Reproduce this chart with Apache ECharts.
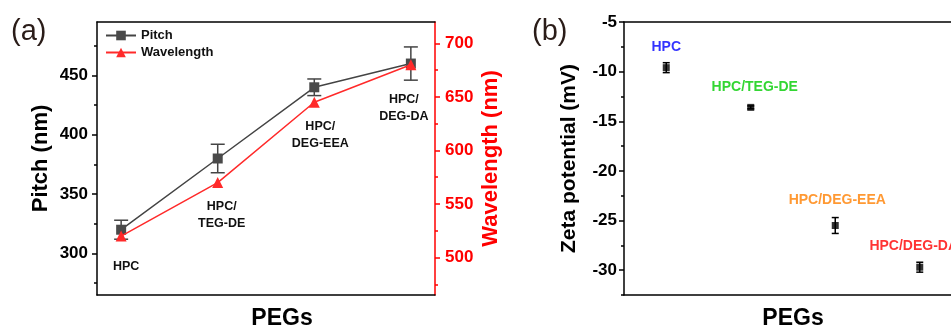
<!DOCTYPE html>
<html>
<head>
<meta charset="utf-8">
<script src="https://cdn.jsdelivr.net/npm/echarts@6/dist/echarts.min.js"></script>
<style>
html,body{margin:0;padding:0;background:#fff;}
#chart{width:951px;height:328px;}
</style>
</head>
<body>
<div id="chart"></div>
<script>
// ---- data ----
var categories = ['HPC', 'HPC/TEG-DE', 'HPC/DEG-EEA', 'HPC/DEG-DA'];
var pitchLabels = ['HPC', 'HPC/\nTEG-DE', 'HPC/\nDEG-EEA', 'HPC/\nDEG-DA'];
var pitch = [320, 380, 440, 460];
var pitchErr = [8, 12, 7, 14];
var wavelength = [520, 570, 645, 680];
var zeta = [-9.6, -13.6, -25.5, -29.7];
var zetaErr = [0.5, 0.15, 0.8, 0.5];
var pitchTicks = [300, 350, 400, 450];
var pitchMinor = [275, 325, 375, 425, 475];
var waveTicks = [500, 550, 600, 650, 700];
var waveMinor = [475, 525, 575, 625, 675];
var zetaTicks = [-5, -10, -15, -20, -25, -30];
var zetaMinor = [-7.5, -12.5, -17.5, -22.5, -27.5, -32.5];
var zetaColors = ['#0000ff', '#00cc00', '#ff8000', '#ff0000'];

// ---- layout/styles ----
var FONT = 'Liberation Sans, Arial, sans-serif';
var pitchOffsets = [[5, 30], [4, 32], [6, 33], [-7, 43]];
var zetaOffsets = [[0, -21], [4, -20], [2, -25], [-6, -21]];

function errData(vals, errs) {
  return vals.map(function (v, i) { return [i + 1, v, v - errs[i], v + errs[i]]; });
}
function errRender(capW, color, lw) {
  return function (params, api) {
    var x = api.value(0);
    var lo = api.coord([x, api.value(2)]);
    var hi = api.coord([x, api.value(3)]);
    var st = { stroke: color, lineWidth: lw };
    return {
      type: 'group',
      children: [
        { type: 'line', shape: { x1: lo[0], y1: lo[1], x2: hi[0], y2: hi[1] }, style: st },
        { type: 'line', shape: { x1: lo[0] - capW / 2, y1: lo[1], x2: lo[0] + capW / 2, y2: lo[1] }, style: st },
        { type: 'line', shape: { x1: hi[0] - capW / 2, y1: hi[1], x2: hi[0] + capW / 2, y2: hi[1] }, style: st }
      ]
    };
  };
}

var blackLine = { show: true, lineStyle: { color: '#000', width: 1.5 } };
var tickLabelStyle = { fontFamily: FONT, fontWeight: 'bold', fontSize: 17, color: '#000' };

var option = {
  backgroundColor: '#fff',
  animation: false,
  textStyle: { fontFamily: FONT },
  grid: [
    { left: 97, top: 22, width: 338, height: 273, containLabel: false, outerBoundsMode: 'none' },
    { left: 624, top: 22, width: 338, height: 273, containLabel: false, outerBoundsMode: 'none' }
  ],
  legend: {
    data: ['Pitch', 'Wavelength'],
    orient: 'vertical',
    left: 105, top: 29, padding: 0,
    itemWidth: 30, itemHeight: 12, itemGap: 4,
    textStyle: { fontFamily: FONT, fontWeight: 'bold', fontSize: 13, color: '#111' }
  },
  graphic: [
    { type: 'text', left: 11, top: 17, style: { text: '(a)', fontFamily: FONT, fontSize: 29, fill: '#2a1c18' } },
    { type: 'text', left: 532, top: 17, style: { text: '(b)', fontFamily: FONT, fontSize: 29, fill: '#2a1c18' } }
  ],
  xAxis: [
    { gridIndex: 0, type: 'value', position: 'bottom', min: 0.75, max: 4.25,
      axisLine: blackLine, axisTick: { show: false }, axisLabel: { show: false }, splitLine: { show: false },
      name: 'PEGs', nameLocation: 'middle', nameGap: 12,
      nameTextStyle: { fontFamily: FONT, fontWeight: 'bold', fontSize: 23, color: '#000', padding: [0, 0, 0, 32] } },
    { gridIndex: 0, type: 'value', position: 'top', min: 0.75, max: 4.25,
      axisLine: blackLine, axisTick: { show: false }, axisLabel: { show: false }, splitLine: { show: false } },
    { gridIndex: 1, type: 'value', position: 'bottom', min: 0.5, max: 4.5,
      axisLine: blackLine, axisTick: { show: false }, axisLabel: { show: false }, splitLine: { show: false },
      name: 'PEGs', nameLocation: 'middle', nameGap: 12,
      nameTextStyle: { fontFamily: FONT, fontWeight: 'bold', fontSize: 23, color: '#000' } },
    { gridIndex: 1, type: 'value', position: 'top', min: 0.5, max: 4.5,
      axisLine: blackLine, axisTick: { show: false }, axisLabel: { show: false }, splitLine: { show: false } }
  ],
  yAxis: [
    { gridIndex: 0, type: 'value', position: 'left', min: 265, max: 495,
      axisLine: blackLine,
      axisTick: { show: true, inside: false, length: 5, customValues: pitchTicks, lineStyle: { color: '#000', width: 1.5 } },
      axisLabel: { customValues: pitchTicks, margin: 9, ...tickLabelStyle },
      splitLine: { show: false },
      name: 'Pitch (nm)', nameLocation: 'middle', nameGap: 45,
      nameTextStyle: { fontFamily: FONT, fontWeight: 'bold', fontSize: 22, color: '#000' } },
    { gridIndex: 0, type: 'value', position: 'left', min: 265, max: 495,
      axisLine: { show: false },
      axisTick: { show: true, length: 3, customValues: pitchMinor, lineStyle: { color: '#000', width: 1.5 } },
      axisLabel: { show: false }, splitLine: { show: false } },
    { gridIndex: 0, type: 'value', position: 'right', min: 465, max: 720,
      axisLine: { show: true, lineStyle: { color: '#ff0000', width: 1.5 } },
      axisTick: { show: true, length: 5, customValues: waveTicks, lineStyle: { color: '#ff0000', width: 1.5 } },
      axisLabel: { customValues: waveTicks, margin: 10, fontFamily: FONT, fontWeight: 'bold', fontSize: 17, color: '#ff0000' },
      splitLine: { show: false },
      name: 'Wavelength (nm)', nameLocation: 'middle', nameGap: 45,
      nameTextStyle: { fontFamily: FONT, fontWeight: 'bold', fontSize: 22, color: '#ff0000' } },
    { gridIndex: 0, type: 'value', position: 'right', min: 465, max: 720,
      axisLine: { show: false },
      axisTick: { show: true, length: 3, customValues: waveMinor, lineStyle: { color: '#ff0000', width: 1.5 } },
      axisLabel: { show: false }, splitLine: { show: false } },
    { gridIndex: 1, type: 'value', position: 'left', min: -32.5, max: -5,
      axisLine: blackLine,
      axisTick: { show: true, length: 5, customValues: zetaTicks, lineStyle: { color: '#000', width: 1.5 } },
      axisLabel: { customValues: zetaTicks, margin: 7, ...tickLabelStyle },
      splitLine: { show: false },
      name: 'Zeta potential (mV)', nameLocation: 'middle', nameGap: 44,
      nameTextStyle: { fontFamily: FONT, fontWeight: 'bold', fontSize: 21, color: '#000' } },
    { gridIndex: 1, type: 'value', position: 'left', min: -32.5, max: -5,
      axisLine: { show: false },
      axisTick: { show: true, length: 3, customValues: zetaMinor, lineStyle: { color: '#000', width: 1.5 } },
      axisLabel: { show: false }, splitLine: { show: false } }
  ],
  series: [
    { type: 'custom', name: 'pitchErr', xAxisIndex: 0, yAxisIndex: 0, z: 2,
      renderItem: errRender(14, '#444', 1.5), encode: { x: 0, y: [1, 2, 3] },
      data: errData(pitch, pitchErr), silent: true },
    { type: 'line', name: 'Pitch', xAxisIndex: 0, yAxisIndex: 0, z: 3,
      data: pitch.map(function (v, i) { return [i + 1, v]; }),
      symbol: 'rect', symbolSize: 10,
      lineStyle: { color: '#444', width: 1.5 },
      itemStyle: { color: '#4a4a4a' } },
    { type: 'line', name: 'Wavelength', xAxisIndex: 0, yAxisIndex: 2, z: 4,
      data: wavelength.map(function (v, i) {
        return { value: [i + 1, v], label: { show: true, position: 'inside', offset: pitchOffsets[i], formatter: pitchLabels[i] } };
      }),
      symbol: 'triangle', symbolSize: 11,
      lineStyle: { color: '#ff2a2a', width: 1.5 },
      itemStyle: { color: '#ff2a2a' },
      label: { fontFamily: FONT, fontWeight: 'bold', fontSize: 12.5, color: '#111', lineHeight: 17, textBorderWidth: 0 } },
    { type: 'custom', name: 'zetaErr', xAxisIndex: 2, yAxisIndex: 4, z: 2,
      renderItem: errRender(7, '#000', 1.5), encode: { x: 0, y: [1, 2, 3] },
      data: errData(zeta, zetaErr), silent: true },
    { type: 'scatter', name: 'Zeta', xAxisIndex: 2, yAxisIndex: 4, z: 3,
      symbol: 'rect', symbolSize: 7,
      itemStyle: { color: '#000' },
      data: zeta.map(function (v, i) {
        return { value: [i + 1, v], label: { show: true, position: 'inside', offset: zetaOffsets[i], formatter: categories[i], color: zetaColors[i], textBorderWidth: 0 } };
      }),
      label: { fontFamily: FONT, fontWeight: 'bold', fontSize: 14, textBorderWidth: 0 } }
  ]
};

var chart = echarts.init(document.getElementById('chart'), null, { renderer: 'canvas' });
chart.setOption(option);
</script>
</body>
</html>
